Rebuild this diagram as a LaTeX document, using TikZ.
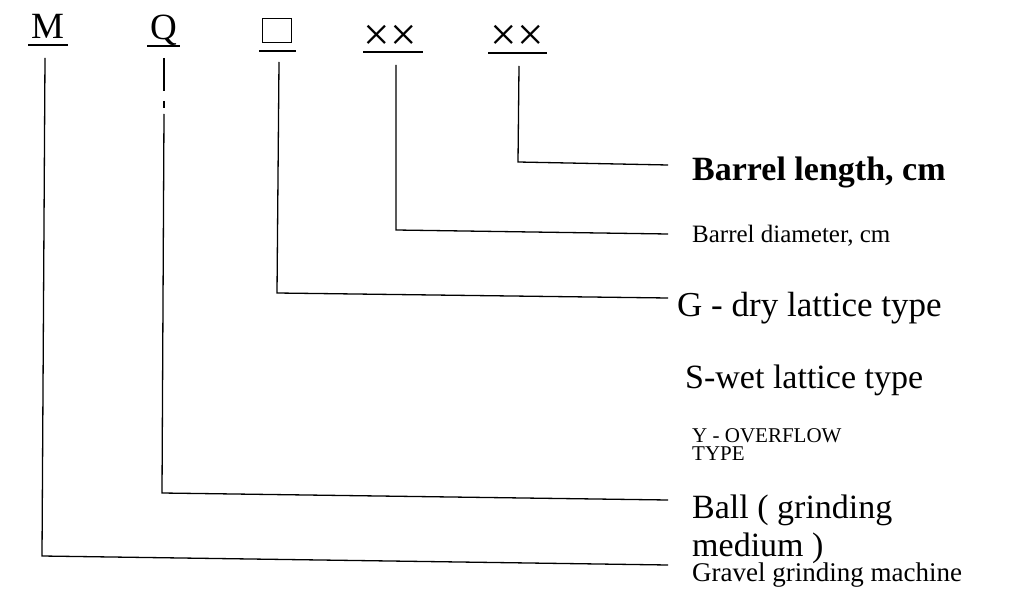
\documentclass[tikz,border=0pt]{standalone}
\usepackage{fontspec}
\setmainfont{Liberation Serif}
\begin{document}
\begin{tikzpicture}[x=1pt,y=-1pt,
  code/.style={inner sep=0pt, anchor=base, font=\fontsize{37}{37}\selectfont},
  uline/.style={line width=1.3pt},
  conn/.style={line width=1.3pt, line join=miter},
  lab/.style={inner sep=0pt, anchor=base west, align=left}]
\useasboundingbox (0,0) rectangle (1024,612);
% code letters
\node[code] (m) at (47.5,39) {M};
\node[code] (q) at (163.5,40) {Q};
\node[draw, line width=1.2pt, minimum width=29pt, minimum height=24pt, inner sep=0pt] (box) at (277,30.5) {};
\node[code, font=\fontsize{47}{47}\selectfont] (x1) at (390.5,51) {××};
\node[code, font=\fontsize{47}{47}\selectfont] (x2) at (517,51) {××};
% underlines
\draw[uline] (28,45) -- (68,45);
\draw[uline] (147,46) -- (180,46);
\draw[uline] (259,51) -- (296,51);
\draw[uline] (363,52) -- (423,52);
\draw[uline] (488,53) -- (547,53);
% labels
\node[lab, font=\bfseries\fontsize{34}{34}\selectfont] (len) at (692,181) {Barrel length, cm};
\node[lab, font=\fontsize{25}{25}\selectfont] (dia) at (692,242) {Barrel diameter, cm};
\node[lab, font=\fontsize{35}{35}\selectfont] (g) at (677,316) {G - dry lattice type};
\node[lab, font=\fontsize{34}{34}\selectfont] (s) at (685,388) {S-wet lattice type};
\node[lab, font=\fontsize{21}{18}\selectfont] (y) at (692,460) {Y - OVERFLOW\\TYPE};
\node[lab, font=\fontsize{34}{38}\selectfont] (ball) at (692,556) {Ball ( grinding\\medium )};
\node[lab, font=\fontsize{27}{27}\selectfont] (grav) at (692,581) {Gravel grinding machine};
% connector points
\coordinate (mt) at (45,58);
\coordinate (mc) at (42,556);
\coordinate (me) at (668,565);
\coordinate (qt) at (164,58);
\coordinate (qc) at (162,493);
\coordinate (qe) at (668,500);
\coordinate (bt) at (279,62);
\coordinate (bc) at (277,293);
\coordinate (be) at (668,298);
\coordinate (dt) at (396,65);
\coordinate (dc) at (396,230);
\coordinate (de) at (668,234);
\coordinate (lt) at (519,66);
\coordinate (lc) at (518,162);
\coordinate (le) at (668,165);
% connectors
\draw[conn] (mt) -- (mc) -- (me);
\draw[conn] (qt) -- (164,91);
\draw[conn] (164,101) -- (164,108);
\draw[conn] (164,114) -- (qc) -- (qe);
\draw[conn] (bt) -- (bc) -- (be);
\draw[conn] (dt) -- (dc) -- (de);
\draw[conn] (lt) -- (lc) -- (le);
\end{tikzpicture}
\end{document}
